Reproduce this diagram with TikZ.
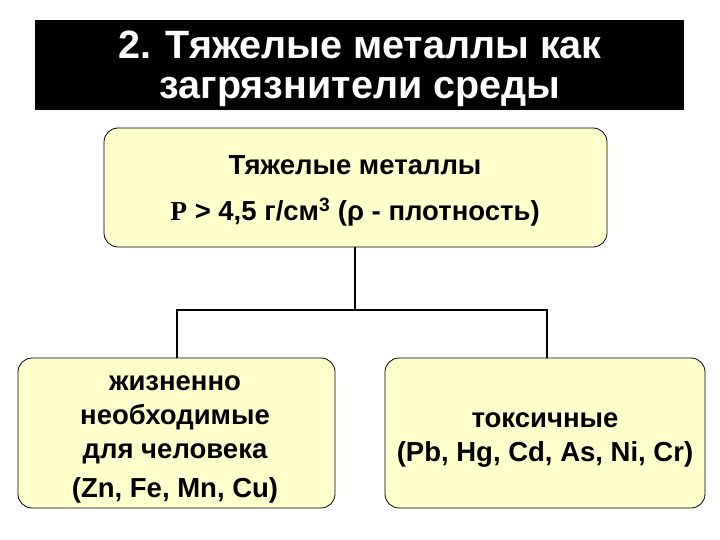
\documentclass[tikz,border=0pt]{standalone}
\usepackage{fontspec}
\setmainfont{Liberation Sans}
\newfontfamily\serifP{Liberation Serif}
\definecolor{boxy}{RGB}{255,255,204}
\begin{document}
\begin{tikzpicture}[x=1pt,y=-1pt,
  yb/.style={draw=black,line width=0.8pt,fill=boxy,rounded corners=14pt},
  tx/.style={inner sep=0pt,font=\bfseries\fontsize{27.5}{32}\selectfont,align=center},
  conn/.style={line width=1.3pt}]
\useasboundingbox (0,0) rectangle (720,540);
\fill[white] (0,0) rectangle (720,540);
\fill[black] (35,20) rectangle (684,110);
\node[text=white,font=\bfseries\fontsize{39.5}{46}\selectfont] (t1) at (360,45) {2. Тяжелые металлы как};
\node[text=white,font=\bfseries\fontsize{39.5}{46}\selectfont] (t2) at (360,92) {загрязнители среды};
\draw[yb] (104,128) rectangle (607,247);
\coordinate (topb) at (355,247);
\node[tx] (a1) at (355,165) {Тяжелые металлы};
\node[tx] (a2) at (355,212) {{\serifP P} > 4,5 г/см\textsuperscript{3} (ρ - плотность)};
\draw[yb] (18,358) rectangle (335,508);
\draw[yb] (385,358) rectangle (705,508);
\coordinate (lt) at (177,358);
\coordinate (rt) at (547,358);
\coordinate (mid) at (355,310);
\draw[conn] (topb) -- (mid);
\draw[conn] (lt) |- (mid) -| (rt);
\node[tx] (l1) at (175,383) {жизненно};
\node[tx] (l2) at (175,417) {необходимые};
\node[tx] (l3) at (175,454) {для человека};
\node[tx] (l4) at (175,490) {(Zn, Fe, Mn, Cu)};
\node[tx] (r1) at (545,420) {токсичные};
\node[tx] (r2) at (545,454) {(Pb, Hg, Cd, As, Ni, Cr)};
\end{tikzpicture}
\end{document}
